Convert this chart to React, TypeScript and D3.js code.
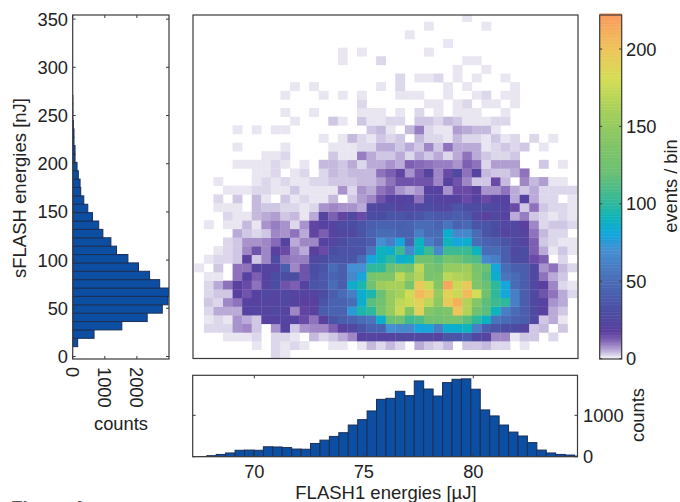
import React from "react";
import * as d3 from "d3";

// 2-D histogram, events per bin. Outer list: rows from the bottom (low sFLASH) upward. Inner: columns, low FLASH1 to high.
const heatRows: number[][] = [
  [0,0,0,0,0,0,0,0,2,1,0,0,0,0,0,0,0,0,0,0,0,0,0,0,0,0,0,0,0,0,0,0,0,0,0,0,0,0,0,0],
  [0,0,0,0,0,0,1,0,2,1,2,1,0,0,1,1,0,1,4,2,4,2,0,5,3,2,4,0,3,3,4,2,2,0,1,0,0,0,0,0],
  [0,0,0,1,1,1,2,0,2,2,1,0,4,2,3,5,8,20,22,22,22,25,25,25,25,22,35,35,40,25,22,8,8,1,3,3,0,2,0,0],
  [0,2,2,2,7,8,3,0,7,20,3,7,8,8,12,18,25,35,45,45,70,65,65,80,80,60,85,85,90,60,40,35,30,28,22,3,4,0,3,0],
  [0,1,2,1,7,5,3,18,20,22,20,15,10,18,35,40,45,50,55,85,120,125,105,110,125,125,130,130,115,100,88,55,50,45,40,25,3,5,1,0],
  [0,2,5,5,5,20,22,22,25,22,8,16,18,40,45,45,75,95,100,130,150,175,140,190,140,130,135,200,165,125,115,90,60,50,40,25,18,5,3,0],
  [0,3,2,8,10,20,20,22,22,25,20,18,18,35,45,45,50,85,115,125,150,170,175,190,170,145,195,210,165,140,115,105,100,60,40,25,20,7,5,0],
  [0,2,3,3,18,14,20,25,22,25,22,22,20,30,40,50,60,85,95,120,150,160,178,205,195,150,190,175,205,180,125,100,80,60,40,25,14,10,5,2],
  [0,2,5,10,18,15,10,22,30,14,12,20,35,38,50,40,85,95,125,155,160,160,130,195,175,140,215,175,195,135,120,100,80,50,40,25,18,8,2,1],
  [0,1,1,0,10,20,12,20,30,30,30,14,32,38,45,40,65,80,130,135,135,170,150,165,130,135,170,165,160,135,115,85,55,50,40,25,10,5,3,0],
  [1,0,3,0,10,10,20,22,22,40,8,14,30,35,50,40,70,70,100,100,120,130,125,170,130,125,150,150,155,130,120,80,50,42,40,25,7,10,4,2],
  [0,1,2,2,3,18,3,8,28,10,9,9,25,30,35,35,35,50,80,90,100,85,90,125,125,115,130,125,115,110,65,60,40,30,28,15,12,0,2,0],
  [0,0,1,2,3,8,14,8,18,15,8,5,18,15,30,33,33,35,55,90,85,105,65,90,105,65,105,105,105,90,50,50,40,25,30,12,5,1,3,1],
  [0,0,0,2,3,7,7,8,11,20,5,8,8,20,22,30,35,35,40,70,60,80,45,90,60,50,90,80,85,50,45,40,35,28,22,12,3,2,1,1],
  [0,0,0,0,5,3,2,3,8,7,10,5,16,12,22,25,25,35,45,50,50,45,45,60,50,50,85,65,65,50,35,30,22,25,22,10,4,2,2,0],
  [0,1,0,1,1,4,1,7,9,7,2,7,16,20,22,28,30,35,40,45,45,42,45,50,50,45,55,45,48,35,35,30,25,25,18,8,2,3,3,2],
  [0,0,0,2,1,1,4,5,6,3,4,1,5,22,12,16,25,15,30,30,35,35,32,35,40,38,38,40,38,25,18,25,20,5,9,3,2,1,2,1],
  [0,0,1,1,1,0,4,3,3,2,2,1,2,7,8,7,7,5,25,25,28,22,25,25,30,25,25,35,30,28,30,25,22,15,3,10,3,2,2,1],
  [0,0,2,0,3,0,4,1,0,3,1,2,1,1,4,0,3,6,8,14,20,20,20,10,25,20,20,20,15,20,15,20,20,5,20,5,2,2,0,1],
  [0,0,0,1,1,1,2,2,1,1,3,1,1,1,1,7,2,7,5,10,12,7,5,7,20,20,7,15,15,18,7,7,10,5,3,5,2,2,2,2],
  [0,0,1,0,0,0,1,2,1,2,1,1,2,2,3,3,3,4,4,6,10,14,14,14,14,8,20,14,8,3,3,15,4,0,8,4,6,1,1,0],
  [0,0,0,0,0,0,1,1,2,0,1,2,0,2,4,3,4,4,4,10,12,16,7,13,22,8,15,25,10,22,4,3,3,5,10,0,0,0,0,0],
  [0,0,0,0,1,1,1,1,2,1,0,1,0,4,4,3,5,2,5,5,7,5,12,11,10,9,9,7,12,10,2,6,6,6,0,0,3,0,1,0],
  [0,0,0,0,0,0,0,1,1,2,0,0,0,0,3,1,1,9,5,3,3,5,2,5,3,5,2,5,10,5,3,2,2,3,0,0,0,0,0,0],
  [0,0,0,0,1,0,0,0,0,1,0,0,0,0,1,1,1,2,2,5,5,3,5,3,8,3,10,5,5,5,1,2,3,2,3,0,1,0,0,0],
  [0,0,0,0,0,0,0,0,0,0,0,0,0,1,0,1,4,2,1,3,2,3,0,4,2,2,1,4,2,2,1,3,1,2,0,2,0,1,0,0],
  [0,0,0,0,1,0,1,0,1,1,0,0,0,0,0,0,0,0,3,4,1,0,4,9,2,1,1,6,5,4,4,1,0,0,0,0,0,0,0,0],
  [0,0,0,0,0,0,0,0,0,0,1,0,0,0,3,1,0,3,1,1,2,2,0,3,3,2,4,3,1,1,1,2,2,0,0,0,0,0,0,0],
  [0,0,0,0,0,0,0,0,0,1,0,0,1,0,0,0,0,1,1,1,0,1,0,2,0,1,0,1,1,1,0,0,1,0,0,0,0,0,0,0],
  [0,0,0,0,0,0,0,0,0,0,0,0,0,0,0,0,0,2,0,0,0,0,0,0,1,1,0,1,2,0,1,1,0,1,0,0,0,0,0,0],
  [0,0,0,0,0,0,0,0,0,1,0,0,0,1,0,1,0,1,0,0,0,1,1,1,0,0,1,0,0,1,2,0,1,1,0,0,0,0,0,0],
  [0,0,0,0,0,0,0,0,0,0,1,0,1,0,0,0,0,0,0,1,0,2,0,0,0,0,1,0,1,0,0,0,0,1,0,0,0,0,0,0],
  [0,0,0,0,0,0,0,0,0,0,0,0,0,0,0,0,0,0,0,0,0,2,0,1,1,2,0,1,0,1,0,0,1,0,0,0,0,0,0,0],
  [0,0,0,0,0,0,0,0,0,0,0,0,0,0,0,0,0,0,0,0,0,0,0,0,0,0,0,1,0,0,1,0,0,0,0,0,0,0,0,0],
  [0,0,0,0,0,0,0,0,0,0,0,0,0,0,0,1,0,0,0,2,0,0,0,0,0,0,0,0,1,1,0,0,0,0,0,0,0,0,0,0],
  [0,0,0,0,0,0,0,0,0,0,0,0,0,0,0,1,0,1,0,0,0,0,0,0,1,0,0,0,0,0,0,0,0,0,0,0,0,0,0,0],
  [0,0,0,0,0,0,0,0,0,0,0,0,0,0,0,0,0,0,0,0,0,0,0,0,0,0,1,0,0,0,0,0,0,0,0,0,0,0,0,0],
  [0,0,0,0,0,0,0,0,0,0,0,0,0,0,0,0,0,0,0,0,0,0,1,0,0,0,0,0,0,0,0,0,0,0,0,0,0,0,0,0],
  [0,0,0,0,0,0,0,0,0,0,0,0,0,0,0,0,0,0,0,0,0,0,0,0,1,0,0,0,0,0,1,0,0,0,0,0,0,0,0,0],
  [0,0,0,0,0,0,0,0,0,0,0,0,0,0,0,0,0,0,0,0,0,0,0,0,0,0,0,0,1,0,0,0,0,0,0,0,0,0,0,0],
];

// Marginal histograms
const flashCounts = [5,25,55,90,155,160,155,240,235,220,185,180,320,400,490,580,765,895,1105,1385,1410,1580,1475,1830,1635,1465,1790,1870,1880,1630,1130,985,765,595,500,340,160,90,55,40,15];
const flashBinStart = 67.4;
const flashBinWidth = 0.4306;
const sflashCounts = [155,665,1530,2320,2790,2970,3020,2710,2395,2050,1720,1365,1190,940,810,615,470,345,250,230,175,135,73,73,40,40,20,5,5,5];
const sflashBinStart = 10.2;
const sflashBinWidth = 8.69;

const sflashTicks = [0,50,100,150,200,250,300,350];
const sflashCountTicks = [0,1000,2000];
const flashTicks = [70,75,80];
const flashCountTicks = [0,1000];
const colorTicks = [0,50,100,150,200];
const colorStops = [0,1,3,5,8,12,17,30,50,70,80,90,100,120,140,160,180,200,222];
const colorValues = ["#f3f0f8","#e9e6f1","#d0c7e4","#baaad7","#9f87c6","#7d5fb2","#5b3f9f","#4b4da3","#4a6cb7","#4490d2","#12a6dc","#0db3bd","#2fb89c","#6bc073","#84c566","#a6d05a","#d4dd55","#efc45c","#f99a5d"];

const FONT = "'Liberation Sans', Arial, sans-serif";
const INK = "#222";
const FRAME = "#3a3a3a";
const BAR = "#0b4ea2";
const BAR_EDGE = "#1c2f55";

const main = { l: 193, r: 578, t: 15, b: 358.5 };
const left = { l: 72.7, r: 169, t: 15, b: 359 };
const bottom = { l: 192.7, r: 577.5, t: 375.3, b: 456.7 };
const cbar = { l: 599.7, r: 621.7, t: 15, b: 359 };

export default function App() {
  const colInd = d3.scaleLinear().domain([0, 40]).range([194.3, 577.1]);
  const rowInd = d3.scaleLinear().domain([0, 40]).range([358.3, 13.1]);
  const color = d3.scaleLinear<string>().domain(colorStops).range(colorValues).interpolate(d3.interpolateRgb).clamp(true);

  const sy = d3.scaleLinear().domain([0, 350]).range([356.5, 19.1]);
  const scx = d3.scaleLinear().domain([0, 3000]).range([left.l, left.r]);
  const fx = d3.scaleLinear().domain([70, 80]).range([254.3, 473.3]);
  const fy = d3.scaleLinear().domain([0, 1000]).range([bottom.b, 415.3]);
  const cy = d3.scaleLinear().domain([0, 200]).range([358.6, 49]);
  const cbarLevels = d3.range(0, 223);

  const tickFont = { fontFamily: FONT, fontSize: 18.3, fill: INK } as const;

  return (
    <svg width={680} height={502} viewBox="0 0 680 502" style={{ position: "absolute", left: 0, top: 0, background: "#fff" }}>
      <defs>
        <clipPath id="mainClip"><rect x={main.l} y={main.t} width={main.r - main.l} height={main.b - main.t} /></clipPath>
        <clipPath id="leftClip"><rect x={left.l} y={left.t} width={left.r - left.l} height={left.b - left.t} /></clipPath>
        <clipPath id="bottomClip"><rect x={bottom.l} y={bottom.t} width={bottom.r - bottom.l} height={bottom.b - bottom.t} /></clipPath>
        <filter id="soft" x="-2%" y="-2%" width="104%" height="104%"><feGaussianBlur stdDeviation="0.45" /></filter>
      </defs>

      {/* left histogram */}
      <g clipPath="url(#leftClip)">
        {sflashCounts.map((c, i) => {
          const y0 = sy(sflashBinStart + i * sflashBinWidth);
          const y1 = sy(sflashBinStart + (i + 1) * sflashBinWidth);
          return <rect key={i} x={left.l} y={y1} width={scx(c) - left.l} height={y0 - y1} fill={BAR} stroke={BAR_EDGE} strokeWidth={1} />;
        })}
      </g>
      <rect x={left.l} y={left.t} width={left.r - left.l} height={left.b - left.t} fill="none" stroke={FRAME} strokeWidth={1.2} />
      {sflashTicks.map((t) => (
        <g key={t}>
          <line x1={left.l} x2={left.l + 3} y1={sy(t)} y2={sy(t)} stroke={FRAME} />
          <line x1={left.r} x2={left.r - 3} y1={sy(t)} y2={sy(t)} stroke={FRAME} />
          <text x={68} y={sy(t) + 6.5} textAnchor="end" {...tickFont}>{t}</text>
        </g>
      ))}
      {sflashCountTicks.map((t) => (
        <g key={t}>
          <line x1={scx(t)} x2={scx(t)} y1={left.b} y2={left.b - 3} stroke={FRAME} />
          <line x1={scx(t)} x2={scx(t)} y1={left.t} y2={left.t + 3} stroke={FRAME} />
          <text transform={`translate(${scx(t) - 6.5},367) rotate(90)`} {...tickFont}>{t}</text>
        </g>
      ))}
      <text x={121} y={430} textAnchor="middle" {...tickFont}>counts</text>
      <text transform="translate(26,188) rotate(-90)" textAnchor="middle" fontFamily={FONT} fontSize={18.5} fill={INK}>sFLASH energies [nJ]</text>

      {/* main heat map */}
      <g clipPath="url(#mainClip)" filter="url(#soft)">
        {heatRows.flatMap((row, r) =>
          row.map((v, c) =>
            v > 0 ? (
              <rect key={`${r}-${c}`} x={colInd(c)} y={rowInd(r + 1)} width={colInd(c + 1) - colInd(c) + 0.3} height={rowInd(r) - rowInd(r + 1) + 0.3} fill={color(v)} />
            ) : null
          )
        )}
      </g>
      <rect x={main.l} y={main.t} width={main.r - main.l} height={main.b - main.t} fill="none" stroke={FRAME} strokeWidth={1.2} />

      {/* bottom histogram */}
      <g clipPath="url(#bottomClip)">
        {flashCounts.map((c, i) => {
          const x0 = fx(flashBinStart + i * flashBinWidth);
          const x1 = fx(flashBinStart + (i + 1) * flashBinWidth);
          return <rect key={i} x={x0} y={fy(c)} width={x1 - x0} height={bottom.b - fy(c)} fill={BAR} stroke={BAR_EDGE} strokeWidth={1} />;
        })}
      </g>
      <rect x={bottom.l} y={bottom.t} width={bottom.r - bottom.l} height={bottom.b - bottom.t} fill="none" stroke={FRAME} strokeWidth={1.2} />
      {flashTicks.map((t) => (
        <g key={t}>
          <line x1={fx(t)} x2={fx(t)} y1={bottom.t} y2={bottom.t + 3} stroke={FRAME} />
          <line x1={fx(t)} x2={fx(t)} y1={bottom.b} y2={bottom.b - 3} stroke={FRAME} />
          <text x={fx(t)} y={478} textAnchor="middle" {...tickFont}>{t}</text>
        </g>
      ))}
      {flashCountTicks.map((t) => (
        <g key={t}>
          <line x1={bottom.l} x2={bottom.l + 3} y1={fy(t)} y2={fy(t)} stroke={FRAME} />
          <line x1={bottom.r} x2={bottom.r - 3} y1={fy(t)} y2={fy(t)} stroke={FRAME} />
          <text x={583} y={fy(t) + 6.5} {...tickFont}>{t}</text>
        </g>
      ))}
      <text transform="translate(644,415) rotate(-90)" textAnchor="middle" {...tickFont}>counts</text>
      <text x={386} y={499} textAnchor="middle" fontFamily={FONT} fontSize={18.5} fill={INK}>FLASH1 energies [µJ]</text>

      {/* colour bar */}
      <g>
        {cbarLevels.map((v) => (
          <rect key={v} x={cbar.l} y={cy(v + 1)} width={cbar.r - cbar.l} height={cy(v) - cy(v + 1) + 0.5} fill={color(v)} />
        ))}
      </g>
      <rect x={cbar.l} y={cbar.t} width={cbar.r - cbar.l} height={cbar.b - cbar.t} fill="none" stroke={FRAME} strokeWidth={1.2} />
      {colorTicks.map((t) => (
        <g key={t}>
          <line x1={cbar.l} x2={cbar.l + 2.5} y1={cy(t)} y2={cy(t)} stroke={FRAME} />
          <line x1={cbar.r} x2={cbar.r - 2.5} y1={cy(t)} y2={cy(t)} stroke={FRAME} />
          <text x={626} y={cy(t) + 6.5} {...tickFont}>{t}</text>
        </g>
      ))}
      <text transform="translate(677,186) rotate(-90)" textAnchor="middle" {...tickFont}>events / bin</text>

      <text x={11} y={514} fontFamily={FONT} fontSize={19} fontWeight={700} fill="#555">Figure 1</text>
    </svg>
  );
}
